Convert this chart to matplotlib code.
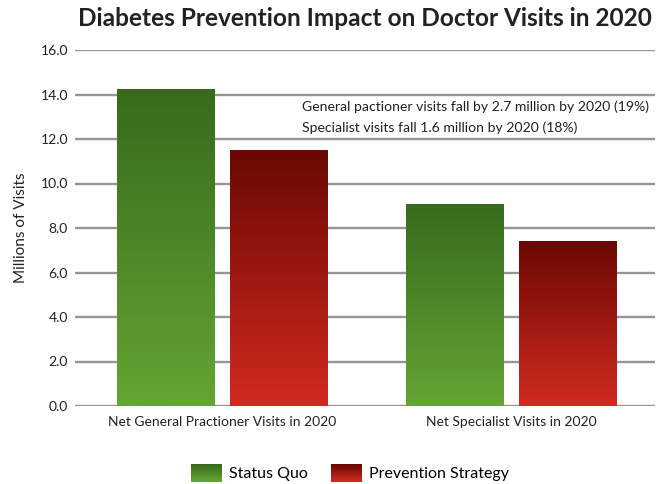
import numpy as np
import matplotlib
matplotlib.use("Agg")
import matplotlib.pyplot as plt
from matplotlib.patches import Rectangle
from matplotlib.legend_handler import HandlerBase
from matplotlib.colors import LinearSegmentedColormap

categories = ["Net General Practioner Visits in 2020", "Net Specialist Visits in 2020"]
series_names = ["Status Quo", "Prevention Strategy"]
status_quo = [14.25, 9.08]
prevention = [11.5, 7.42]
yticks = [0, 2, 4, 6, 8, 10, 12, 14, 16]
title = "Diabetes Prevention Impact on Doctor Visits in 2020"
note_lines = ["General pactioner visits fall by 2.7 million by 2020 (19%)",
              "Specialist visits fall 1.6 million by 2020 (18%)"]

plt.rcParams['font.family'] = ['Lato', 'DejaVu Sans']

green_cmap = LinearSegmentedColormap.from_list("g", ["#64a534", "#386a1d"])
red_cmap = LinearSegmentedColormap.from_list("r", ["#d12a20", "#6a0803"])

fig = plt.figure(figsize=(6.57, 4.84), dpi=100)
L, R, B, T = 75/657, 655/657, 1-406/484, 1-50/484
ax = fig.add_axes([L, B, R-L, T-B])
ax.set_xlim(-0.5087, 1.498)
ax.set_ylim(0, 16)

for s in ax.spines.values():
    s.set_visible(False)
ax.set_yticks(yticks)
ax.set_yticklabels([f"{v:.1f}" for v in yticks], fontsize=10, color="#222222")
ax.tick_params(axis='y', length=0, pad=5)
ax.tick_params(axis='x', length=0, pad=7)
ax.yaxis.grid(True, color="#959595", linewidth=1.7)
ax.set_axisbelow(True)

x = np.arange(len(categories))
w = 0.336
off = 0.197
grad = np.linspace(0, 1, 256).reshape(-1, 1)

def gbar(xc, h, cmap):
    bars = ax.bar(xc, h, w, color="none", zorder=2)
    for b in bars:
        x0 = b.get_x()
        im = ax.imshow(grad, cmap=cmap, origin="lower", aspect="auto",
                       extent=[x0, x0 + w, 0, b.get_height()], zorder=3)
        im.set_clip_path(b)
    return bars

gbar(x - off, status_quo, green_cmap)
gbar(x + off, prevention, red_cmap)
ax.set_xlim(-0.5087, 1.498)
ax.set_ylim(0, 16)

ax.set_xticks(x)
ax.set_xticklabels(categories, fontsize=10, color="#222222")
ax.set_ylabel("Millions of Visits", fontsize=11, color="#222222", labelpad=9)

fig.text(365/657, 1-18/484, title, fontsize=17.6, fontweight="bold",
         ha="center", va="center", color="#222222")
fig.text(302/657, 1-107/484, note_lines[0], fontsize=10.1, ha="left", va="center", color="#222222")
fig.text(302/657, 1-128/484, note_lines[1], fontsize=10.1, ha="left", va="center", color="#222222")

class GradHandler(HandlerBase):
    def __init__(self, cmap):
        super().__init__()
        self.cmap = cmap
    def create_artists(self, legend, orig_handle, xdescent, ydescent, width, height, fontsize, trans):
        arts = []
        n = 20
        for i in range(n):
            c = self.cmap(i / (n - 1))
            r = Rectangle((-xdescent, -ydescent + height * i / n), width, height / n + 0.3,
                          facecolor=c, edgecolor="none", transform=trans)
            arts.append(r)
        return arts

h1 = Rectangle((0, 0), 1, 1)
h2 = Rectangle((0, 0), 1, 1)
fig.legend([h1, h2], series_names, loc="center", bbox_to_anchor=(350/657, 1-473/484),
           ncol=2, frameon=False, fontsize=11.5,
           handler_map={h1: GradHandler(green_cmap), h2: GradHandler(red_cmap)},
           handlelength=1.95, handleheight=1.3, handletextpad=0.45, columnspacing=1.45)

fig.savefig("out.png", dpi=100)
